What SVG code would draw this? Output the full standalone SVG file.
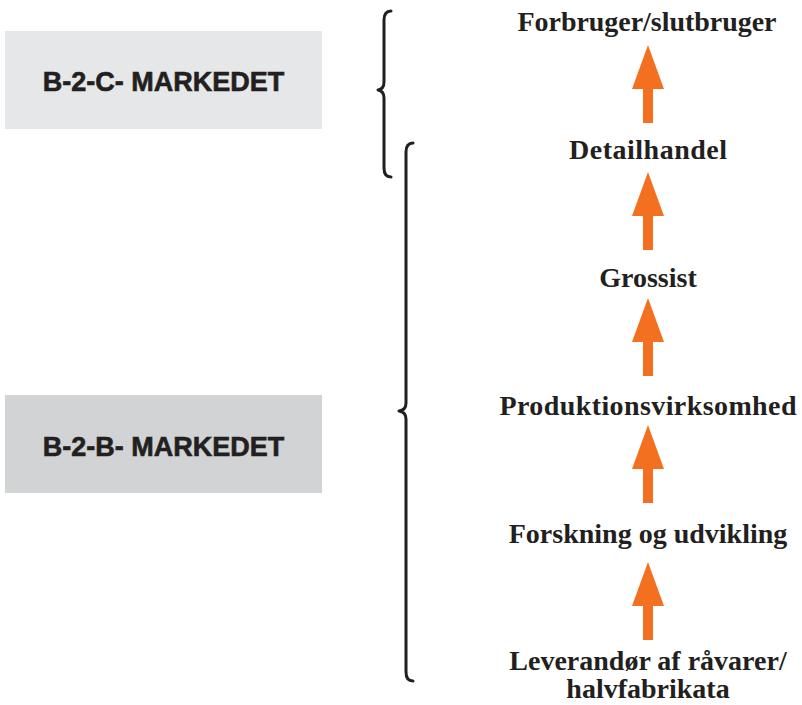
<svg xmlns="http://www.w3.org/2000/svg" xmlns:xlink="http://www.w3.org/1999/xlink" width="802" height="705" viewBox="0 0 802 705">
  <style>
    .market { font-family: "Liberation Sans", Arial, sans-serif; font-weight: bold; font-size: 27px; fill: #231f20; stroke: #231f20; stroke-width: 0.6; text-anchor: middle; }
    .stage { font-family: "Liberation Serif", "Times New Roman", serif; font-weight: bold; font-size: 28px; fill: #231f20; text-anchor: middle; }
    .brace { fill: none; stroke: #231f20; stroke-width: 3; stroke-linecap: round; stroke-linejoin: round; }
    .arrow { fill: #f37021; }
  </style>
  <defs>
    <!-- upward block arrow, tip at origin -->
    <path id="up" d="M0,0 L16,44 L5,44 L5,78 L-5,78 L-5,44 L-16,44 Z"/>
  </defs>
  <rect width="802" height="705" fill="#ffffff"/>

  <g id="b2c">
    <rect x="5" y="31" width="317" height="98" fill="#e6e7e8"/>
    <text class="market" x="163.5" y="91">B-2-C- MARKEDET</text>
  </g>
  <g id="b2b">
    <rect x="5" y="395" width="317" height="98" fill="#d1d3d4"/>
    <text class="market" x="163.5" y="456">B-2-B- MARKEDET</text>
  </g>

  <g id="braces">
    <path class="brace" d="M391,11 Q384,11 384,20 L384,82 Q384,89 378,90 Q384,91 384,98 L384,168 Q384,177 391,177"/>
    <path class="brace" d="M413,143 Q406,143 406,152 L406,403 Q406,410 399,411 Q406,412 406,419 L406,672 Q406,681 413,681"/>
  </g>

  <g id="stage-consumer"><text class="stage" x="647" y="31" textLength="259">Forbruger/slutbruger</text></g>
  <g id="stage-retail"><text class="stage" x="648" y="159" textLength="158">Detailhandel</text></g>
  <g id="stage-wholesale"><text class="stage" x="648" y="287">Grossist</text></g>
  <g id="stage-production"><text class="stage" x="648" y="415" textLength="297">Produktionsvirksomhed</text></g>
  <g id="stage-rnd"><text class="stage" x="648" y="543">Forskning og udvikling</text></g>
  <g id="stage-supplier">
    <text class="stage" x="648" y="670">Leverandør af råvarer/</text>
    <text class="stage" x="648" y="698">halvfabrikata</text>
  </g>

  <g id="connectors" class="arrow">
    <use xlink:href="#up" x="648" y="45"/>
    <use xlink:href="#up" x="648" y="172"/>
    <use xlink:href="#up" x="648" y="298"/>
    <use xlink:href="#up" x="648" y="425"/>
    <use xlink:href="#up" x="648" y="562"/>
  </g>
</svg>
